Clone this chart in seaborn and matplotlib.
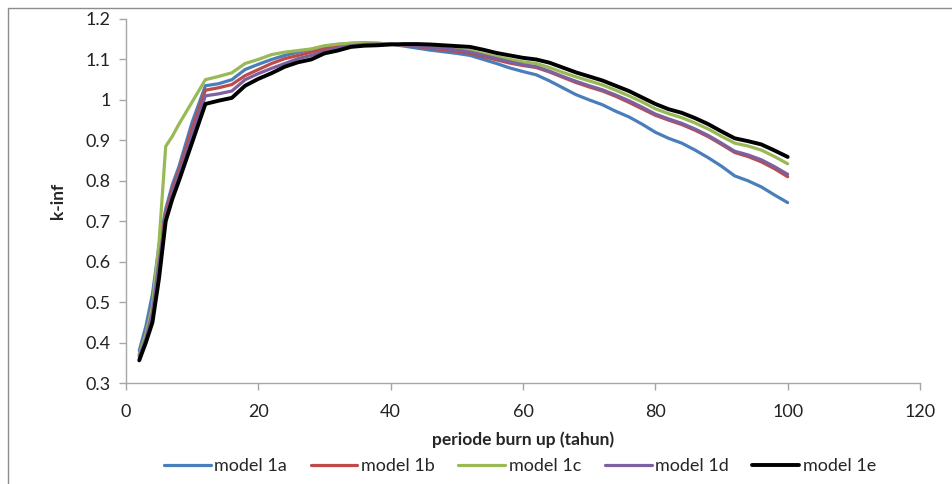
import matplotlib
matplotlib.use("Agg")
import matplotlib.pyplot as plt
import seaborn as sns
import pandas as pd
from matplotlib.patches import Rectangle

# ---- data ----
years = [2, 3, 4, 5, 6, 7, 8, 10, 12, 14, 16, 18, 20, 22, 24, 26, 28, 30, 32, 34, 36, 38, 40,
         42, 44, 46, 48, 50, 52, 54, 56, 58, 60, 62, 64, 66, 68, 70, 72, 74, 76, 78, 80,
         82, 84, 86, 88, 90, 92, 94, 96, 98, 100]

model_1a = [0.38, 0.44, 0.52, 0.64, 0.73, 0.79, 0.835, 0.945, 1.035, 1.04, 1.05, 1.075, 1.088,
            1.10, 1.11, 1.118, 1.125, 1.132, 1.137, 1.14, 1.141, 1.14, 1.138, 1.133, 1.128,
            1.123, 1.119, 1.115, 1.11, 1.10, 1.09, 1.079, 1.07, 1.062, 1.047, 1.03, 1.013,
            1.0, 0.988, 0.972, 0.958, 0.94, 0.92, 0.905, 0.893, 0.876, 0.857, 0.836, 0.812,
            0.80, 0.785, 0.765, 0.746]
model_1b = [0.37, 0.42, 0.49, 0.62, 0.72, 0.78, 0.825, 0.93, 1.024, 1.03, 1.038, 1.06, 1.075,
            1.09, 1.102, 1.11, 1.118, 1.126, 1.132, 1.137, 1.139, 1.139, 1.138, 1.135, 1.132,
            1.128, 1.124, 1.12, 1.115, 1.107, 1.099, 1.091, 1.085, 1.08, 1.069, 1.056, 1.043,
            1.032, 1.022, 1.009, 0.994, 0.978, 0.962, 0.95, 0.939, 0.925, 0.909, 0.89, 0.87,
            0.86, 0.847, 0.83, 0.81]
model_1c = [0.37, 0.42, 0.49, 0.65, 0.885, 0.91, 0.94, 0.995, 1.05, 1.058, 1.067, 1.09, 1.10,
            1.112, 1.118, 1.122, 1.126, 1.134, 1.138, 1.14, 1.141, 1.14, 1.138, 1.136, 1.134,
            1.131, 1.128, 1.125, 1.122, 1.114, 1.107, 1.10, 1.094, 1.09, 1.08, 1.068, 1.057,
            1.047, 1.037, 1.024, 1.01, 0.995, 0.978, 0.966, 0.956, 0.943, 0.928, 0.91, 0.893,
            0.886, 0.876, 0.86, 0.842]
model_1d = [0.365, 0.41, 0.475, 0.60, 0.71, 0.77, 0.815, 0.915, 1.01, 1.015, 1.022, 1.05, 1.065,
            1.078, 1.09, 1.102, 1.11, 1.12, 1.128, 1.134, 1.137, 1.138, 1.138, 1.136, 1.133,
            1.13, 1.127, 1.123, 1.118, 1.11, 1.102, 1.094, 1.087, 1.082, 1.071, 1.058, 1.046,
            1.035, 1.025, 1.012, 0.998, 0.982, 0.965, 0.953, 0.942, 0.928, 0.912, 0.893, 0.873,
            0.864, 0.852, 0.835, 0.816]
model_1e = [0.356, 0.40, 0.45, 0.56, 0.70, 0.755, 0.80, 0.895, 0.99, 0.998, 1.005, 1.035, 1.052,
            1.066, 1.082, 1.093, 1.10, 1.115, 1.122, 1.131, 1.134, 1.135, 1.137, 1.138, 1.138,
            1.137, 1.135, 1.133, 1.131, 1.124, 1.116, 1.11, 1.104, 1.10, 1.092, 1.08, 1.068,
            1.058, 1.048, 1.035, 1.022, 1.006, 0.99, 0.977, 0.968, 0.955, 0.94, 0.922, 0.905,
            0.898, 0.89, 0.875, 0.859]

series_names = ["model 1a", "model 1b", "model 1c", "model 1d", "model 1e"]
series_values = [model_1a, model_1b, model_1c, model_1d, model_1e]
colors = ["#4A7EBB", "#BE4B48", "#98B954", "#7D60A0", "#000000"]
widths = [2.3, 2.3, 2.3, 2.3, 2.8]

x_ticks = [0, 20, 40, 60, 80, 100, 120]
y_ticks = [0.3, 0.4, 0.5, 0.6, 0.7, 0.8, 0.9, 1.0, 1.1, 1.2]
y_tick_labels = ["0.3", "0.4", "0.5", "0.6", "0.7", "0.8", "0.9", "1", "1.1", "1.2"]

# ---- plot ----
sns.set_style("white")
plt.rcParams["font.family"] = ["Lato", "DejaVu Sans"]

W, H = 952, 484
fig = plt.figure(figsize=(W / 100, H / 100), dpi=100)
ax = fig.add_axes([126 / W, 1 - 383 / H, (920 - 126) / W, (383 - 19) / H])

for name, vals, c, lw in zip(series_names, series_values, colors, widths):
    df = pd.DataFrame({"x": years, "y": vals})
    sns.lineplot(data=df, x="x", y="y", ax=ax, color=c, linewidth=lw, label=name,
                 estimator=None, sort=False)

ax.set_xlim(0, 120)
ax.set_ylim(0.3, 1.2)
ax.set_xticks(x_ticks)
ax.set_xticklabels([str(t) for t in x_ticks])
ax.set_yticks(y_ticks)
ax.set_yticklabels(y_tick_labels)

for s in ["top", "right"]:
    ax.spines[s].set_visible(False)
for s in ["left", "bottom"]:
    ax.spines[s].set_color("#A6A6A6")
    ax.spines[s].set_linewidth(1.0)
ax.tick_params(axis="both", direction="out", length=5, width=1, color="#A6A6A6",
               labelsize=13, labelcolor="#222222", pad=6, left=True, bottom=True)
ax.tick_params(axis="x", pad=10)

ax.set_xlabel("periode burn up (tahun)", fontsize=12.5, fontweight="bold", labelpad=8)
ax.set_ylabel("k-inf", fontsize=12.5, fontweight="bold", labelpad=14)

handles, labels = ax.get_legend_handles_labels()
if ax.get_legend() is not None:
    ax.get_legend().remove()
fig.legend(handles, labels, loc="center", bbox_to_anchor=(520 / W, 1 - 466 / H),
           ncol=5, frameon=False, fontsize=13, handlelength=2.6, handletextpad=0.2,
           columnspacing=1.3)

# figure border (top-left visible)
fig.patches.append(Rectangle((8 / W, -0.1), 1.2, 1 - 8 / H + 0.1, transform=fig.transFigure,
                             fill=False, edgecolor="#8C8C8C", linewidth=1.0, zorder=-1))

fig.savefig("out.png", dpi=100)
